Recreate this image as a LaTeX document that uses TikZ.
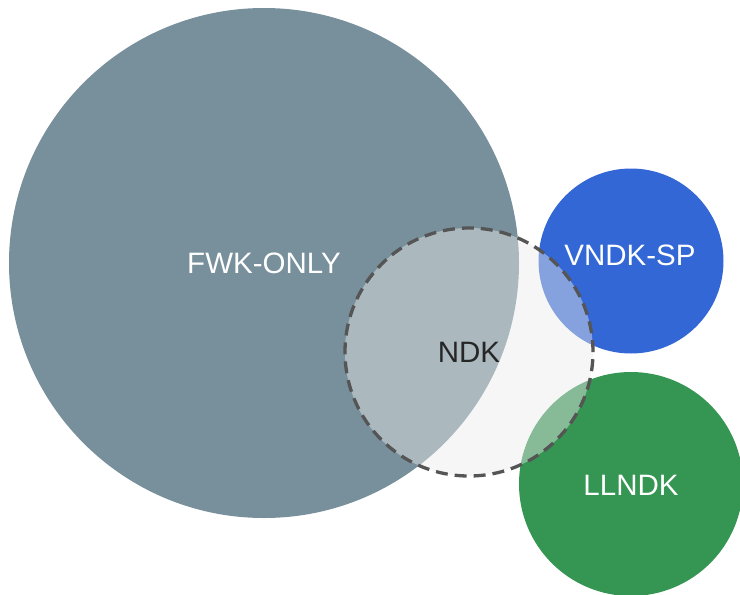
\documentclass[tikz,border=0pt]{standalone}
\usepackage{fontspec}
\setmainfont{Liberation Sans}
\definecolor{fwkgray}{HTML}{78909C}
\definecolor{vndkblue}{HTML}{3367D6}
\definecolor{llgreen}{HTML}{359552}
\definecolor{ndkfill}{HTML}{EBEBEB}
\definecolor{ndkline}{HTML}{555555}
\begin{document}
\begin{tikzpicture}[x=1pt,y=-1pt,
	set/.style={shape=circle,inner sep=0pt,outer sep=0pt,text=white,font=\fontsize{29.5}{31}\selectfont},
	ndkset/.style={set,fill=ndkfill,fill opacity=0.45,text opacity=1,text=black!85,draw=ndkline,draw opacity=1,line width=3.3pt,dash pattern=on 12pt off 7pt}]
		\useasboundingbox (0,0) rectangle (740,595);
		\clip (0,0) rectangle (740,595);
		\node[set,fill=fwkgray,minimum size=510pt] (fwk) at (264,263) {};
		\node[set,fill=vndkblue,minimum size=185pt] (vndk) at (631,261) {};
		\node[set,fill=llgreen,minimum size=224pt] (llndk) at (631,484) {};
		\node[ndkset,minimum size=248pt] (ndk) at (469,352) {};

		\node[set] (fwklabel) at (fwk.center) {FWK-ONLY};
		\node[set] (vndklabel) at (630,255) {VNDK-SP};
		\node[set] (llndklabel) at (631,485) {LLNDK};
		\node[set,text=black!85] (ndklabel) at (ndk.center) {NDK};
		\end{tikzpicture}
\end{document}
